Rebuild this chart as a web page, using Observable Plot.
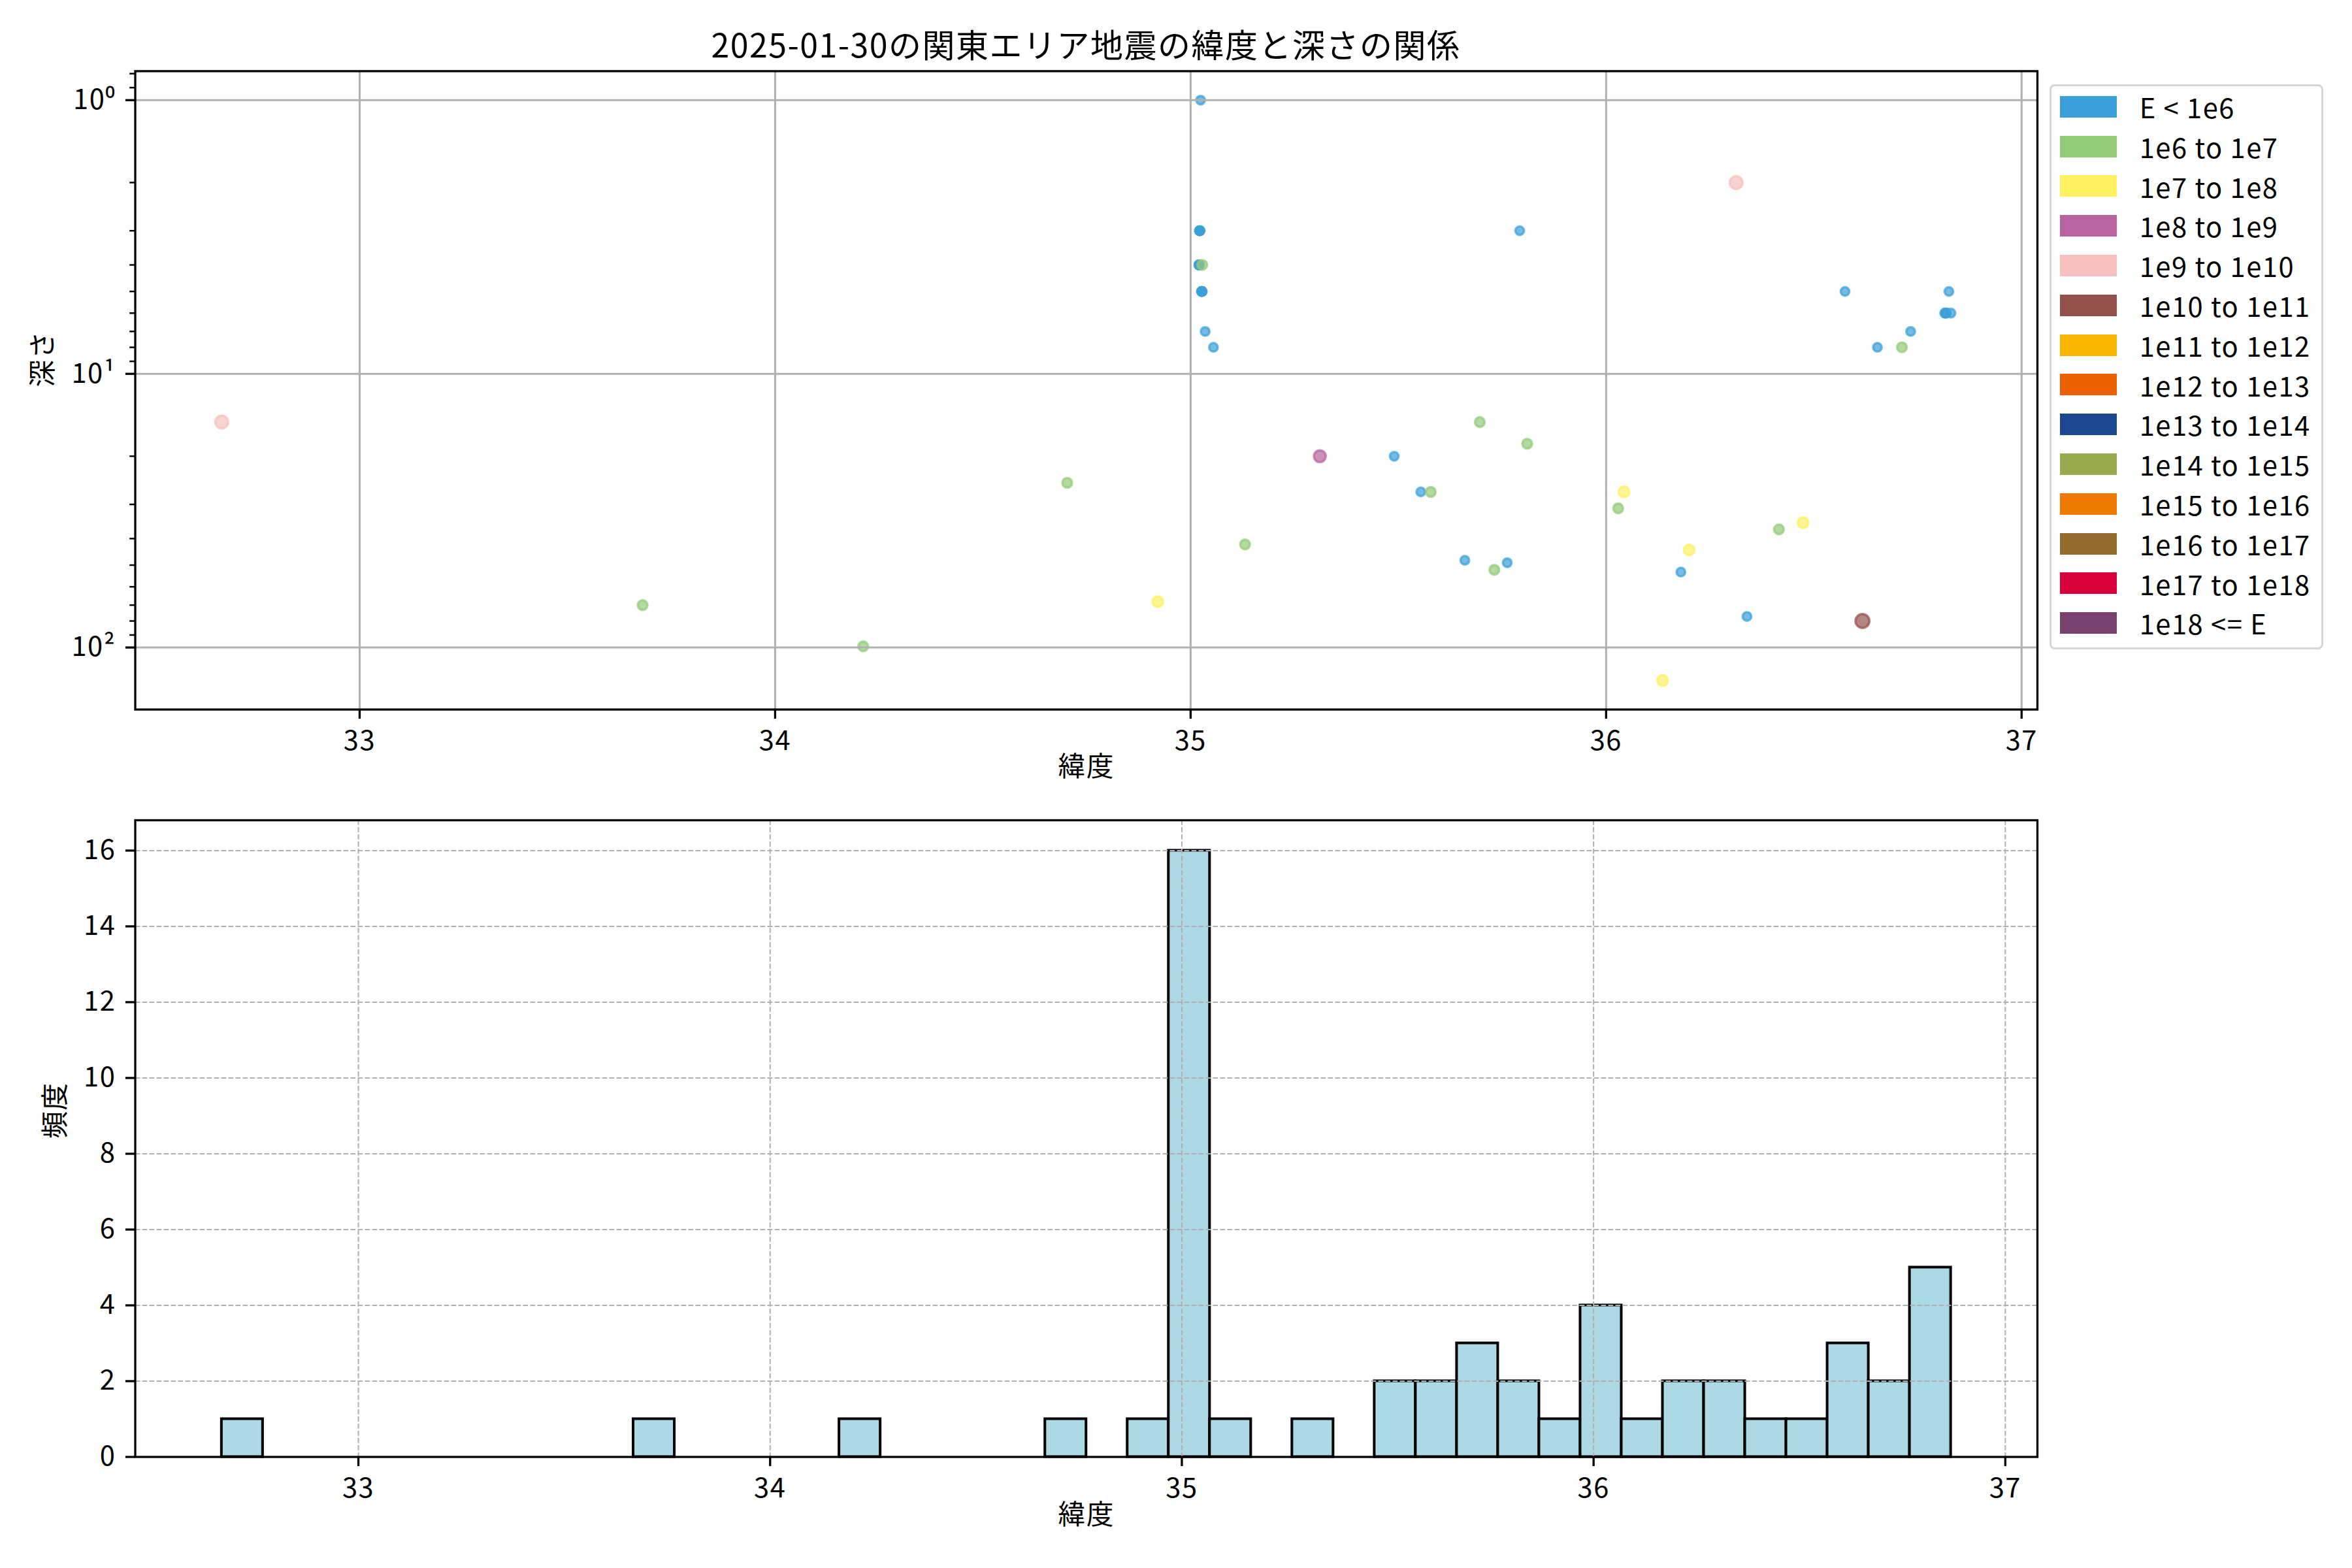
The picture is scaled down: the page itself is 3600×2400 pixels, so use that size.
<!DOCTYPE html>
<html>
<head>
<meta charset="utf-8">
<script src="https://cdn.jsdelivr.net/npm/d3@7"></script>
<script src="https://cdn.jsdelivr.net/npm/@observablehq/plot@0.6"></script>
<style>
  html, body { margin: 0; padding: 0; background: #fff; }
  #page { position: relative; width: 3600px; height: 2400px; overflow: hidden; background: #fff;
          font-family: "Noto Sans CJK JP", "Noto Sans", sans-serif; color: #000; letter-spacing: 1.5px; }
  #title { position: absolute; left: 0; width: 3324px; top: 30px; text-align: center;
           font-size: 50px; line-height: 72px; white-space: nowrap; }
  #top { position: absolute; left: 0; top: 0; width: 3600px; height: 1250px; }
  #hist { position: absolute; left: 0; top: 1250px; width: 3600px; height: 1150px; }
  #legend { position: absolute; left: 3137px; top: 129px; width: 419px; height: 865px; box-sizing: border-box;
            border: 3.3px solid #d6d6d6; border-radius: 8px; background: rgba(255,255,255,0.8); }
  .lrow { position: absolute; left: 0; height: 60.8px; display: flex; align-items: center; white-space: nowrap; }
  .lsw { width: 87px; height: 33px; margin-left: 12.7px; }
  .ltx { margin-left: 35px; font-size: 41.7px; line-height: 60.8px; }
  svg text { letter-spacing: 1.5px; }
</style>
</head>
<body>
<div id="page">
  <div id="title">2025-01-30の関東エリア地震の緯度と深さの関係</div>
  <div id="top"></div>
  <div id="hist"></div>
  <div id="legend"></div>
</div>
<script>
// Energy classes (legend)
const classLabels = [
  "E < 1e6", "1e6 to 1e7", "1e7 to 1e8", "1e8 to 1e9", "1e9 to 1e10",
  "1e10 to 1e11", "1e11 to 1e12", "1e12 to 1e13", "1e13 to 1e14", "1e14 to 1e15",
  "1e15 to 1e16", "1e16 to 1e17", "1e17 to 1e18", "1e18 <= E"
];
const classColors = [
  "#3aa0da", "#93cb78", "#fff162", "#b8629f", "#f5c0bd",
  "#93504b", "#f8b500", "#eb6100", "#1d4790", "#9aab4f",
  "#ef7a00", "#936c2d", "#d7003a", "#79416d"
];

// Earthquakes: latitude, depth (km), energy class index
const lat = [
  32.668, 33.681, 34.212, 34.703, 34.921,
  35.024, 35.022, 35.022, 35.023, 35.021, 35.020, 35.020, 35.021, 35.028,
  35.027, 35.027, 35.026, 35.028, 35.027, 35.035, 35.055,
  35.131, 35.311, 35.490, 35.554, 35.578, 35.660, 35.696, 35.731, 35.762,
  35.792, 35.810, 35.920, 35.990, 36.010, 36.029, 36.043, 36.136, 36.180, 36.200,
  36.313, 36.339, 36.416, 36.474, 36.575, 36.617, 36.653, 36.712, 36.733,
  36.825, 36.815, 36.817, 36.819, 36.830
];
const depth = [
  15, 70, 99, 25, 68,
  1, 3, 3, 3, 3, 4, 4, 4, 4,
  5, 5, 5, 5, 5, 7, 8,
  42, 20, 20, 27, 27, 48, 15, 52, 49,
  3, 18, 0, 0, 0, 31, 27, 132, 53, 44,
  2, 77, 37, 35, 5, 80, 8, 8, 7,
  5, 6, 6, 6, 6
];
const cls = [
  4, 1, 1, 1, 2,
  0, 0, 0, 0, 0, 0, 0, 0, 1,
  0, 0, 0, 0, 0, 0, 0,
  1, 3, 0, 0, 1, 0, 1, 1, 0,
  0, 1, 1, 1, 0, 1, 2, 2, 0, 2,
  4, 0, 1, 2, 0, 5, 0, 1, 0,
  0, 0, 0, 0, 0
];

const xTicks = [33, 34, 35, 36, 37];
const yTicksTop = [1, 10, 100];
const yMinorTop = [0.8, 0.9, 2, 3, 4, 5, 6, 7, 8, 9, 20, 30, 40, 50, 60, 70, 80, 90];
const yTicksHist = [0, 2, 4, 6, 8, 10, 12, 14, 16];
const binStep = 0.1;

const rows = lat.map((d, i) => ({lat: d, depth: depth[i], cls: cls[i], label: classLabels[cls[i]]}));
const shown = rows.filter(d => d.depth > 0).slice().sort((a, b) => a.cls - b.cls);

const latExt = d3.extent(rows, d => d.lat);
const latPad = (latExt[1] - latExt[0]) * 0.05;
const xDomTop = [latExt[0] - latPad, latExt[1] + latPad];
const logExt = d3.extent(shown, d => Math.log10(d.depth));
const logPad = (logExt[1] - logExt[0]) * 0.05;
const yDomTop = [Math.pow(10, logExt[0] - logPad), Math.pow(10, logExt[1] + logPad)];

const edges = d3.range(latExt[0], latExt[1] + binStep, binStep);
const e0 = edges[0], eN = edges[edges.length - 1];
const bins = d3.bin().domain([e0, eN]).thresholds(edges.slice(1, -1))(lat);
const binRows = bins.filter(b => b.length > 0).map(b => ({x0: b.x0, x1: b.x1, base: 0, count: b.length}));
const maxCount = d3.max(bins, b => b.length);
const hPad = (eN - e0) * 0.05;
const xDomHist = [e0 - hPad, eN + hPad];

const sup = {"0": "\u2070", "1": "\u00b9", "2": "\u00b2"};
const supFmt = d => "10" + sup[String(Math.round(Math.log10(d)))];
const intFmt = d => String(d);

const fontCSS = {fontFamily: '"Noto Sans CJK JP", "Noto Sans", sans-serif', fontSize: "41.7px",
                 background: "transparent", overflow: "visible", color: "black"};

const topPlot = Plot.plot({
  width: 3600, height: 1250,
  marginLeft: 206.5, marginRight: 482, marginTop: 108.4, marginBottom: 164.5,
  style: fontCSS,
  x: {domain: xDomTop},
  y: {type: "log", domain: yDomTop, reverse: true},
  r: {type: "linear", domain: [0, 5], range: [6.6, 10.7]},
  color: {domain: classLabels, range: classColors},
  marks: [
    Plot.dot(shown, {x: "lat", y: "depth", r: "cls", fill: "label", stroke: "label",
                     fillOpacity: 0.7, strokeOpacity: 0.7, strokeWidth: 3.6, sort: null}),
    Plot.gridX({ticks: xTicks, stroke: "#b0b0b0", strokeOpacity: 1, strokeWidth: 3}),
    Plot.gridY({ticks: yTicksTop, stroke: "#b0b0b0", strokeOpacity: 1, strokeWidth: 3}),
    Plot.frame({stroke: "black", strokeWidth: 3.3}),
    Plot.axisX({ticks: xTicks, tickSize: 14.6, tickPadding: 18, strokeWidth: 3.3, tickFormat: intFmt, label: null, fontSize: 41.7}),
    Plot.axisY({ticks: yTicksTop, tickSize: 14.6, tickPadding: 15, strokeWidth: 3.3, tickFormat: supFmt, label: null, fontSize: 41.7}),
    Plot.axisY({ticks: yMinorTop, tickSize: 8.3, strokeWidth: 2.5, tickFormat: () => "", label: null}),
    Plot.text(["緯度"], {frameAnchor: "bottom", dy: 102, fontSize: 41.7}),
    Plot.text(["深さ"], {frameAnchor: "left", dx: -140.5, dy: -5, rotate: -90, fontSize: 41.7})
  ]
});
document.getElementById("top").appendChild(topPlot);

const histPlot = Plot.plot({
  width: 3600, height: 1150,
  marginLeft: 206.5, marginRight: 482, marginTop: 5, marginBottom: 170.5,
  style: fontCSS,
  x: {domain: xDomHist},
  y: {domain: [0, maxCount * 1.05]},
  marks: [
    Plot.rect(binRows, {x1: "x0", x2: "x1", y1: "base", y2: "count", fill: "#add8e6", stroke: "black", strokeWidth: 4}),
    Plot.gridX({ticks: xTicks, stroke: "#b0b0b0", strokeOpacity: 1, strokeWidth: 2, strokeDasharray: "7.7,3.3"}),
    Plot.gridY({ticks: yTicksHist, stroke: "#b0b0b0", strokeOpacity: 1, strokeWidth: 2, strokeDasharray: "7.7,3.3"}),
    Plot.frame({stroke: "black", strokeWidth: 3.3}),
    Plot.axisX({ticks: xTicks, tickSize: 14.6, tickPadding: 18, strokeWidth: 3.3, tickFormat: intFmt, label: null, fontSize: 41.7}),
    Plot.axisY({ticks: yTicksHist, tickSize: 14.6, tickPadding: 15, strokeWidth: 3.3, tickFormat: intFmt, label: null, fontSize: 41.7}),
    Plot.text(["緯度"], {frameAnchor: "bottom", dy: 103, fontSize: 41.7}),
    Plot.text(["頻度"], {frameAnchor: "left", dx: -121.5, rotate: -90, fontSize: 41.7})
  ]
});
document.getElementById("hist").appendChild(histPlot);

// Legend (outside the top axes, on the right)
const legend = document.getElementById("legend");
classLabels.forEach((lab, i) => {
  const row = document.createElement("div");
  row.className = "lrow";
  row.style.top = (34.7 - 3.3 + i * 60.8 - 30.4) + "px";
  const sw = document.createElement("div");
  sw.className = "lsw";
  sw.style.background = classColors[i];
  const tx = document.createElement("div");
  tx.className = "ltx";
  tx.textContent = lab;
  row.appendChild(sw);
  row.appendChild(tx);
  legend.appendChild(row);
});
</script>
</body>
</html>
